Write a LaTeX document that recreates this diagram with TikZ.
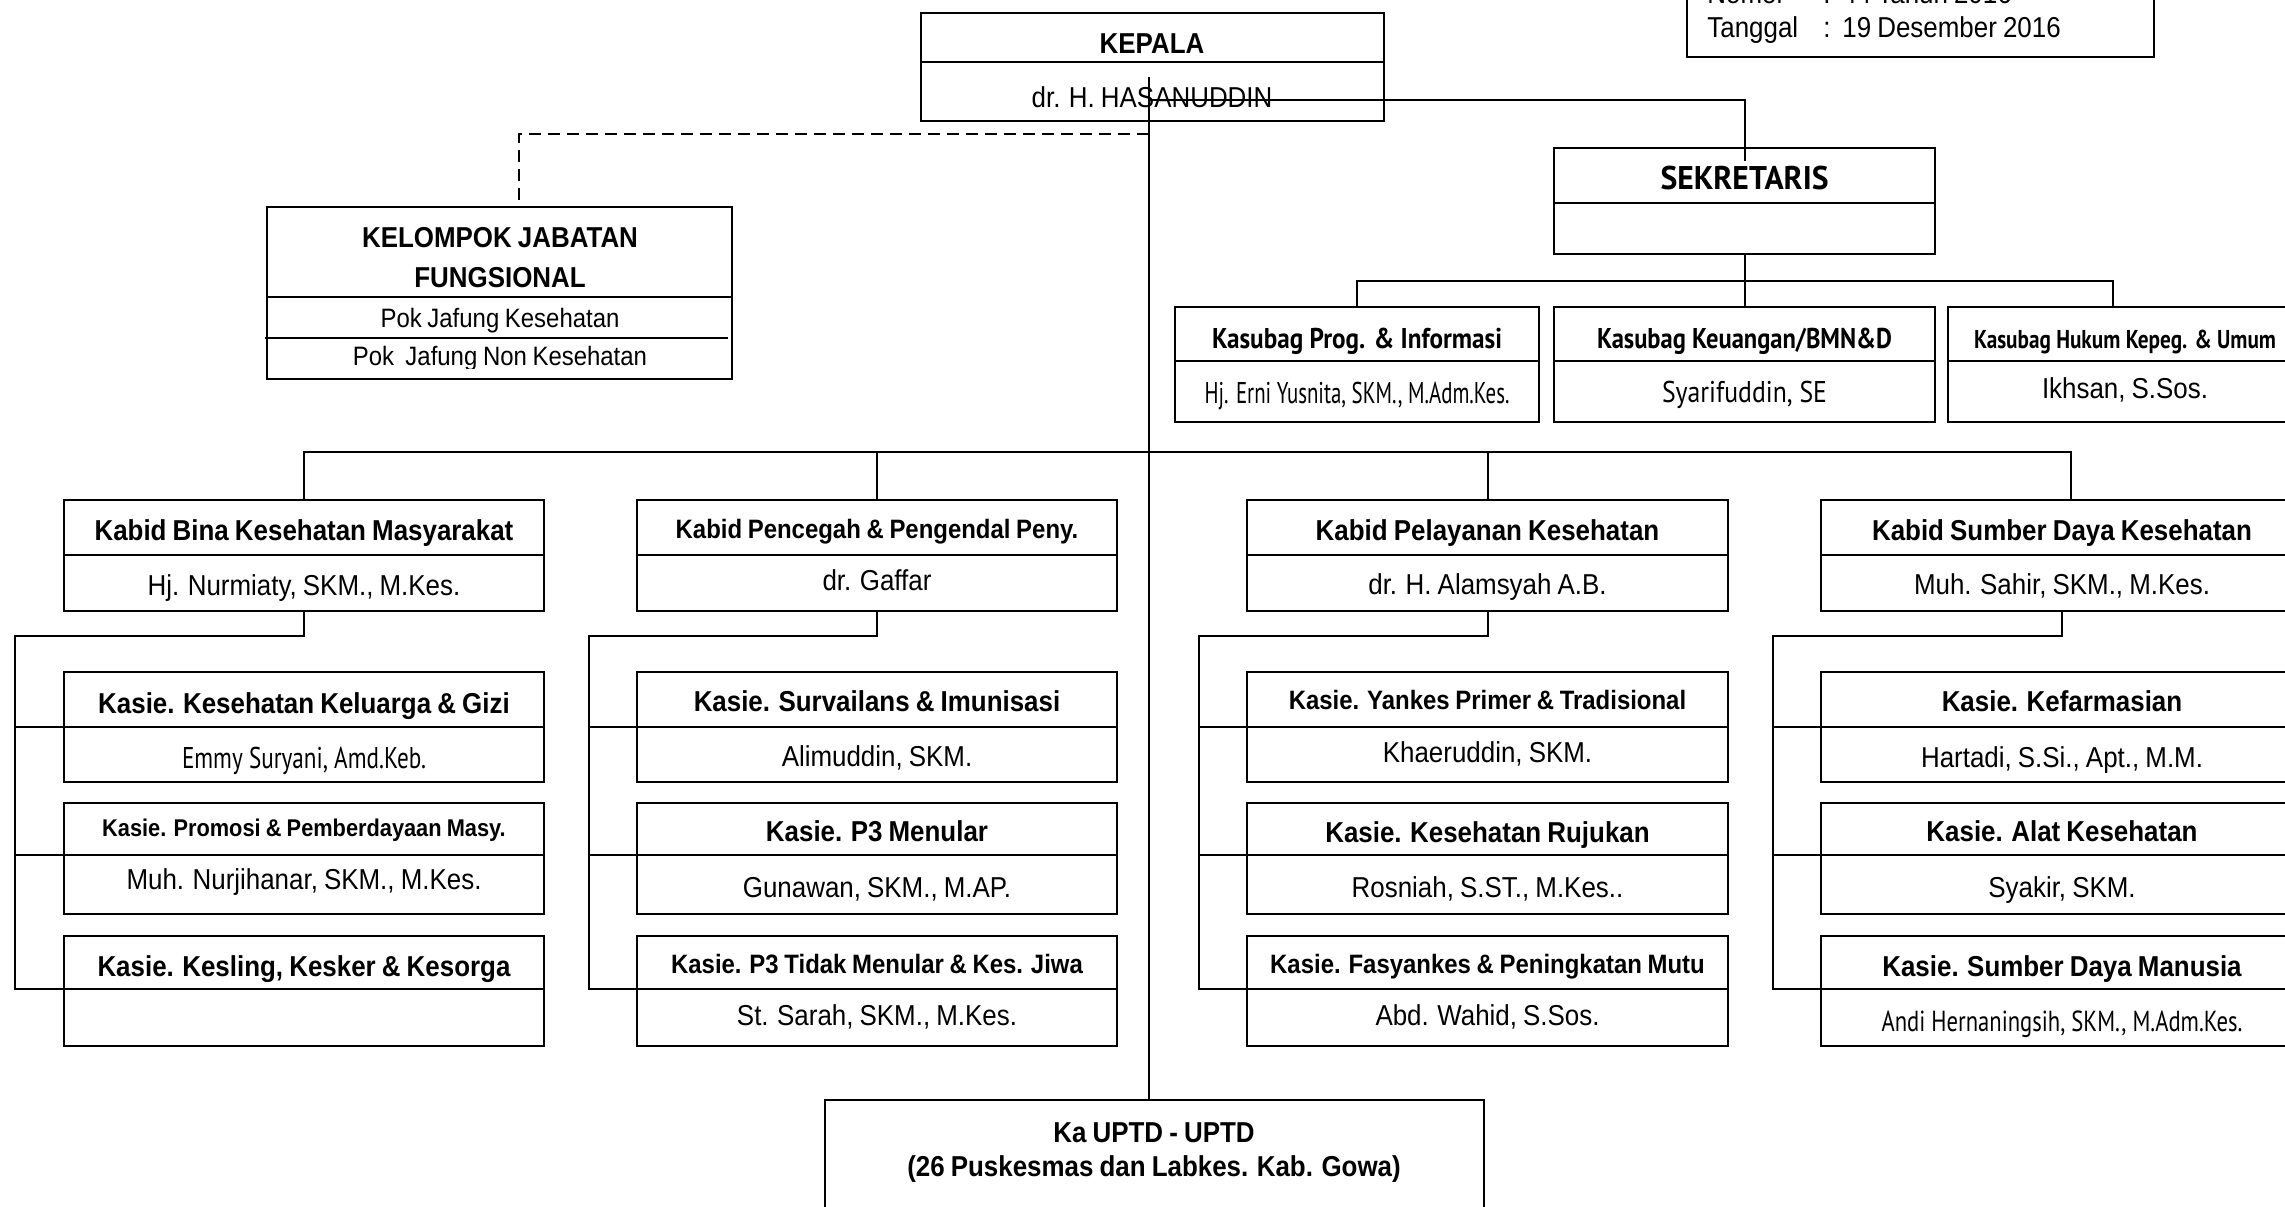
\documentclass[tikz,border=0pt]{standalone}
\usepackage{fontspec}
\setmainfont{Liberation Sans}[FakeStretch=0.9,WordSpace=0.85]
\newfontfamily\agency{PT Sans}
\usetikzlibrary{fit}
\newcommand\orgbox[6]{%
  \node[box,fit={(#2,#3)(#4,#6)}] (#1) {};
  \draw[ln] (#2,#5) -- (#4,#5);
  \coordinate (#1-d) at (#2,#5);}
\begin{document}
\begin{tikzpicture}[x=0.5pt,y=-0.5pt,
  ln/.style={line width=1pt},
  box/.style={draw,line width=1pt,inner sep=0pt},
  tx/.style={anchor=base,inner sep=0pt,font=\fontsize{#1}{#1}\selectfont},
  tx/.default=14.4,
  tb/.style={anchor=base,inner sep=0pt,font=\fontsize{#1}{#1}\selectfont\bfseries},
  tb/.default=14.4,
  ag/.style={anchor=base,inner sep=0pt,font=\agency\fontsize{#1}{#1}\selectfont},
  agb/.style={anchor=base,inner sep=0pt,font=\agency\fontsize{#1}{#1}\selectfont\bfseries},
  dsh/.style={line width=1pt,dash pattern=on 6pt off 3.5pt}]
\path[use as bounding box,fill=white] (0,0) rectangle (2285,1206);
\clip (0,0) rectangle (2285,1206);

% ---- top right box
\node[box,fit={(1687,-40)(2154,57)}] (skbox) {};
\node[tx,anchor=base west] (nomor) at (1707,3) {Nomor};
\node[tx,anchor=base west] (nomorc) at (1823,3) {:};
\node[tx,anchor=base west] (nomorv) at (1842,3) {44 Tahun 2016};
\node[tx,anchor=base west] (tgl) at (1707,37) {Tanggal};
\node[tx,anchor=base west] (tglc) at (1823,37) {:};
\node[tx,anchor=base west] (tglv) at (1842,37) {19 Desember 2016};

% ---- KEPALA
\orgbox{kep}{921}{13}{1384}{62}{121}
\node[tb] (kept) at (1152,53) {KEPALA};
\node[tx] (kepn) at (1152,107) {dr. H. HASANUDDIN};

% ---- Kelompok Jabatan Fungsional
\node[box,fit={(267,207)(732,379)}] (kjf) {};
\draw[ln] (267,297) -- (732,297);
\draw[ln] (265,338) -- (728,338);
\node[tb] (kjf1) at (500,247) {KELOMPOK JABATAN};
\node[tb] (kjf2) at (500,287) {FUNGSIONAL};
\node[tx=13.3] (kjf3) at (500,327) {Pok Jafung Kesehatan};
\begin{scope}
\clip (267,338) rectangle (732,368);
\node[tx=13.3] (kjf4) at (500,365) {Pok\ \ Jafung Non Kesehatan};
\end{scope}

% ---- Sekretaris
\orgbox{sek}{1554}{148}{1935}{203}{254}
\node[agb=16.4] (sekt) at (1744.5,189) {\resizebox{84pt}{\height}{SEKRETARIS}};

% ---- Kasubag
\orgbox{ksb1}{1175}{307}{1539}{361}{422}
\orgbox{ksb2}{1554}{307}{1935}{361}{422}
\orgbox{ksb3}{1948}{307}{2300}{361}{422}
\node[agb=14.3] (ksb1t) at (1357,348) {\resizebox{145pt}{\height}{Kasubag Prog. \& Informasi}};
\node[ag=15] (ksb1n) at (1357,403) {\resizebox{152.5pt}{\height}{Hj. Erni Yusnita, SKM., M.Adm.Kes.}};
\node[agb=14.3] (ksb2t) at (1744.5,348) {\resizebox{147.5pt}{\height}{Kasubag Keuangan/BMN\&D}};
\node[ag=15] (ksb2n) at (1744.5,402) {\resizebox{82.5pt}{\height}{Syarifuddin, SE}};
\node[agb=12.9] (ksb3t) at (2125,348) {\resizebox{151pt}{\height}{Kasubag Hukum Kepeg. \& Umum}};
\node[tx] (ksb3n) at (2125,398) {Ikhsan, S.Sos.};

% ---- Column 1
\orgbox{kb1}{64}{500}{544}{555}{611}
\orgbox{ks11}{64}{672}{544}{727}{782}
\orgbox{ks12}{64}{803}{544}{855}{914}
\orgbox{ks13}{64}{936}{544}{989}{1046}
\node[tb] (kb1t) at (304,540) {Kabid Bina Kesehatan Masyarakat};
\node[tx] (kb1n) at (304,595) {Hj. Nurmiaty, SKM., M.Kes.};
\node[tb] (ks11t) at (304,713) {Kasie. Kesehatan Keluarga \& Gizi};
\node[ag=15] (ks11n) at (304,768) {\resizebox{122pt}{\height}{Emmy Suryani, Amd.Keb.}};
\node[tb=12.1] (ks12t) at (304,836) {Kasie. Promosi \& Pemberdayaan Masy.};
\node[tx] (ks12n) at (304,889) {Muh. Nurjihanar, SKM., M.Kes.};
\node[tb] (ks13t) at (304,976) {Kasie. Kesling, Kesker \& Kesorga};

% ---- Column 2
\orgbox{kb2}{637}{500}{1117}{555}{611}
\orgbox{ks21}{637}{672}{1117}{727}{782}
\orgbox{ks22}{637}{803}{1117}{855}{914}
\orgbox{ks23}{637}{936}{1117}{989}{1046}
\node[tb=13.3] (kb2t) at (877,538) {Kabid Pencegah \& Pengendal Peny.};
\node[tx] (kb2n) at (877,590) {dr. Gaffar};
\node[tb] (ks21t) at (877,711) {Kasie. Survailans \& Imunisasi};
\node[tx] (ks21n) at (877,766) {Alimuddin, SKM.};
\node[tb] (ks22t) at (877,841) {Kasie. P3 Menular};
\node[tx] (ks22n) at (877,897) {Gunawan, SKM., M.AP.};
\node[tb=13.3] (ks23t) at (877,973) {Kasie. P3 Tidak Menular \& Kes. Jiwa};
\node[tx] (ks23n) at (877,1025) {St. Sarah, SKM., M.Kes.};

% ---- Column 3
\orgbox{kb3}{1247}{500}{1728}{555}{611}
\orgbox{ks31}{1247}{672}{1728}{727}{782}
\orgbox{ks32}{1247}{803}{1728}{855}{914}
\orgbox{ks33}{1247}{936}{1728}{989}{1046}
\node[tb] (kb3t) at (1487.5,540) {Kabid Pelayanan Kesehatan};
\node[tx] (kb3n) at (1487.5,594) {dr. H. Alamsyah A.B.};
\node[tb=13.3] (ks31t) at (1487.5,709) {Kasie. Yankes Primer \& Tradisional};
\node[tx] (ks31n) at (1487.5,762) {Khaeruddin, SKM.};
\node[tb] (ks32t) at (1487.5,842) {Kasie. Kesehatan Rujukan};
\node[tx] (ks32n) at (1487.5,897) {Rosniah, S.ST., M.Kes..};
\node[tb=13.3] (ks33t) at (1487.5,973) {Kasie. Fasyankes \& Peningkatan Mutu};
\node[tx] (ks33n) at (1487.5,1025) {Abd. Wahid, S.Sos.};

% ---- Column 4
\orgbox{kb4}{1821}{500}{2303}{555}{611}
\orgbox{ks41}{1821}{672}{2303}{727}{782}
\orgbox{ks42}{1821}{803}{2303}{855}{914}
\orgbox{ks43}{1821}{936}{2303}{989}{1046}
\node[tb] (kb4t) at (2062,540) {Kabid Sumber Daya Kesehatan};
\node[tx] (kb4n) at (2062,594) {Muh. Sahir, SKM., M.Kes.};
\node[tb] (ks41t) at (2062,711) {Kasie. Kefarmasian};
\node[tx] (ks41n) at (2062,767) {Hartadi, S.Si., Apt., M.M.};
\node[tb] (ks42t) at (2062,841) {Kasie. Alat Kesehatan};
\node[tx] (ks42n) at (2062,897) {Syakir, SKM.};
\node[tb] (ks43t) at (2062,976) {Kasie. Sumber Daya Manusia};
\node[ag=14.5] (ks43n) at (2062,1031) {\resizebox{180.5pt}{\height}{Andi Hernaningsih, SKM., M.Adm.Kes.}};

% ---- UPTD
\node[box,fit={(825,1100)(1484,1240)}] (uptd) {};
\node[tb] (uptd1) at (1154,1142) {Ka UPTD - UPTD};
\node[tb] (uptd2) at (1154,1176) {(26 Puskesmas dan Labkes. Kab. Gowa)};

% ---- connectors
\coordinate (kv) at (1149,77);
\coordinate (ks) at (1149,100);
\coordinate (kd) at (1149,134);
\coordinate (kjft) at (519,207);
\coordinate (sb) at (1746,281);
\coordinate (k3c) at (2113,307);
\coordinate (kb4c) at (2071,500);
\coordinate (mb) at (1149,452);
\coordinate (c1) at (15,636);
\coordinate (c2) at (589,636);
\coordinate (c3) at (1199,636);
\coordinate (c4) at (1773,636);

\draw[ln] (kv) -- (kv |- uptd.north);
\draw[ln] (ks) -| (sek.north) -- ++(0,14);
\draw[dsh] (kd) -| (kjft);
\draw[ln] (sek.south) -- (ksb2.north);
\draw[ln] (ksb1.north) -- (ksb1.north |- sb) -- (k3c |- sb) -- (k3c);
\draw[ln] (kb1.north) -- (kb1.north |- mb) -- (kb4c |- mb) -- (kb4c);
\draw[ln] (kb2.north) -- (kb2.north |- mb);
\draw[ln] (kb3.north) -- (kb3.north |- mb);

\draw[ln] (kb1.south) |- (c1) |- (ks13-d);
\draw[ln] (c1 |- ks11-d) -- (ks11-d);
\draw[ln] (c1 |- ks12-d) -- (ks12-d);
\draw[ln] (kb2.south) |- (c2) |- (ks23-d);
\draw[ln] (c2 |- ks21-d) -- (ks21-d);
\draw[ln] (c2 |- ks22-d) -- (ks22-d);
\draw[ln] (kb3.south) |- (c3) |- (ks33-d);
\draw[ln] (c3 |- ks31-d) -- (ks31-d);
\draw[ln] (c3 |- ks32-d) -- (ks32-d);
\draw[ln] (kb4.south) |- (c4) |- (ks43-d);
\draw[ln] (c4 |- ks41-d) -- (ks41-d);
\draw[ln] (c4 |- ks42-d) -- (ks42-d);
\end{tikzpicture}
\end{document}
